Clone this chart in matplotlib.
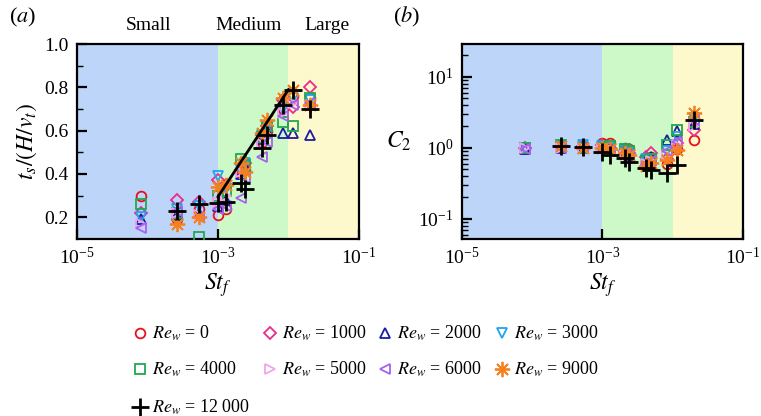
import numpy as np
import matplotlib
matplotlib.use("Agg")
from matplotlib import pyplot as plt

plt.rcParams['font.family'] = ['Liberation Serif', 'DejaVu Serif']
plt.rcParams['mathtext.fontset'] = 'stix'

# Stokes numbers shared by the runs
st_f = [8e-5, 2.6e-4, 5.3e-4, 1.0e-3, 1.3e-3, 2.1e-3, 2.4e-3, 4.2e-3, 5.0e-3, 8.3e-3, 1.15e-2, 2.0e-2]

re_w = ['0', '1000', '2000', '3000', '4000', '5000', '6000', '9000', '12\u2009000']
nan = np.nan

ts_re0 = [0.30, 0.19, 0.24, 0.21, 0.24, 0.40, 0.42, 0.55, 0.60, 0.70, 0.76, 0.75]
ts_re1000 = [0.22, 0.28, 0.27, 0.37, 0.35, 0.42, 0.45, 0.58, 0.62, 0.74, 0.71, 0.80]
ts_re2000 = [0.19, 0.21, 0.22, 0.25, 0.28, 0.40, 0.43, 0.56, 0.60, 0.59, 0.59, 0.58]
ts_re3000 = [0.20, 0.24, 0.25, 0.39, 0.33, 0.42, 0.45, 0.58, 0.62, 0.70, 0.75, 0.74]
ts_re4000 = [0.26, 0.22, 0.11, 0.30, 0.32, 0.47, 0.44, 0.57, 0.62, 0.64, 0.62, 0.75]
ts_re5000 = [0.17, 0.22, 0.21, 0.27, 0.30, 0.41, 0.40, 0.54, 0.58, 0.68, 0.73, 0.72]
ts_re6000 = [0.15, 0.23, 0.20, 0.24, 0.25, 0.29, 0.38, 0.48, 0.55, 0.67, 0.72, 0.73]
ts_re9000 = [nan, 0.17, 0.20, 0.34, 0.35, 0.45, 0.41, 0.59, 0.65, 0.75, 0.79, 0.72]
ts_re12000 = [nan, 0.23, 0.26, 0.265, 0.27, 0.36, 0.33, 0.52, 0.58, 0.72, 0.79, 0.70]

c2_re0 = [1.0, 1.1, 1.05, 1.18, 1.18, 1.0, 0.95, 0.70, 0.75, 0.60, 0.95, 1.3]
c2_re1000 = [1.0, 1.05, 1.05, 1.1, 1.0, 0.9, 0.85, 0.75, 0.85, 0.70, 1.18, 1.8]
c2_re2000 = [0.95, 1.0, 1.0, 1.0, 1.0, 0.85, 0.8, 0.70, 0.75, 1.3, 1.75, 2.2]
c2_re3000 = [1.0, 1.05, 1.1, 1.05, 1.0, 0.9, 0.85, 0.70, 0.70, 0.9, 1.4, 2.6]
c2_re4000 = [1.0, 1.1, 1.0, 1.0, 1.05, 0.95, 0.9, 0.65, 0.70, 1.1, 1.8, 2.3]
c2_re5000 = [1.0, 1.0, 1.0, 1.0, 0.95, 0.8, 0.8, 0.60, 0.65, 0.8, 1.1, 2.0]
c2_re6000 = [0.95, 1.0, 1.0, 0.95, 0.9, 0.85, 0.8, 0.60, 0.65, 0.9, 1.2, 2.5]
c2_re9000 = [nan, 1.05, 1.0, 1.0, 0.95, 0.85, 0.8, 0.55, 0.61, 0.68, 0.94, 3.1]
c2_re12000 = [nan, 1.07, 1.03, 0.88, 0.80, 0.72, 0.64, 0.52, 0.49, 0.44, 0.58, 2.48]

# linear fit in the medium range
fit_st = [1e-3, 1e-2]
fit_ts = [0.295, 0.79]

ts_all = [ts_re0, ts_re1000, ts_re2000, ts_re3000, ts_re4000, ts_re5000, ts_re6000, ts_re9000, ts_re12000]
c2_all = [c2_re0, c2_re1000, c2_re2000, c2_re3000, c2_re4000, c2_re5000, c2_re6000, c2_re9000, c2_re12000]

styles = [
    dict(marker='o', color='#e8101c', ms=7),
    dict(marker='D', color='#ee2a8c', ms=6),
    dict(marker='^', color='#1c1ca0', ms=7.5),
    dict(marker='v', color='#1ea4f0', ms=7.5),
    dict(marker='s', color='#20a850', ms=7),
    dict(marker='>', color='#f5a2ee', ms=7.5),
    dict(marker='<', color='#a463ee', ms=7.5),
    dict(marker=(8, 2, 0), color='#f5801e', ms=11),
    dict(marker='+', color='black', ms=13),
]

fig = plt.figure(figsize=(7.61, 4.16), dpi=100)
ax1 = fig.add_axes([0.1012, 0.4255, 0.3705, 0.4687])
ax2 = fig.add_axes([0.6070, 0.4255, 0.3690, 0.4687])

for ax in (ax1, ax2):
    ax.axvspan(1e-5, 1e-3, color='#bdd5f8', lw=0, zorder=0)
    ax.axvspan(1e-3, 1e-2, color='#cdf8c8', lw=0, zorder=0)
    ax.axvspan(1e-2, 1e-1, color='#fdf9cc', lw=0, zorder=0)
    ax.set_xscale('log')
    ax.set_xlim(1e-5, 1e-1)
    for s in ax.spines.values():
        s.set_linewidth(1.6)
    ax.tick_params(which='major', direction='in', length=7, width=1.6, labelsize=14, pad=6)
    ax.tick_params(which='minor', direction='in', length=4, width=1.0)
    ax.tick_params(which='both', top=False, right=False)
    ax.set_xlabel('$St_f$', fontsize=17, labelpad=2)

kws = []
for ts, c2, st in zip(ts_all, c2_all, styles):
    lw = 2.0 if st['marker'] == '+' else 1.3
    kw = dict(ls='none', marker=st['marker'], ms=st['ms'], mfc='none',
              mec=st['color'], mew=lw, zorder=3)
    ax1.plot(st_f, ts, **kw)
    ax2.plot(st_f, c2, **kw)
    kws.append(kw)

ax1.plot(fit_st, fit_ts, color='black', lw=2, zorder=4)

ax1.set_ylim(0.1, 1.0)
ax1.set_yticks([0.2, 0.4, 0.6, 0.8, 1.0])
ax1.set_yticks([0.3, 0.5, 0.7, 0.9], minor=True)
ax1.set_ylabel('$t_s/(H/v_t)$', fontsize=17, labelpad=4)

ax2.set_yscale('log')
ax2.set_ylim(0.052, 29)
ax2.set_ylabel('$C_2$', fontsize=17, rotation=0, labelpad=14, va='center')

fig.text(0.012, 0.945, '($a$)', fontsize=16)
fig.text(0.516, 0.945, '($b$)', fontsize=16)
fig.text(0.195, 0.928, 'Small', fontsize=14, ha='center')
fig.text(0.327, 0.928, 'Medium', fontsize=14, ha='center')
fig.text(0.430, 0.928, 'Large', fontsize=14, ha='center')

# hand-placed key below the panels, 4 columns x 3 rows
leg = fig.add_axes([0, 0, 1, 1], facecolor='none')
leg.set_xlim(0, 761)
leg.set_ylim(416, 0)
leg.axis('off')
col_x = [140, 270, 385, 502]
row_y = [333, 369, 407]
slots = [(0, 0), (1, 0), (2, 0), (3, 0), (0, 1), (1, 1), (2, 1), (3, 1), (0, 2)]
for (ci, ri), kw, lab in zip(slots, kws, re_w):
    leg.plot([col_x[ci]], [row_y[ri]], **kw)
    leg.text(col_x[ci] + 12, row_y[ri], '$Re_w$ = ' + lab, fontsize=13, va='center')

fig.savefig('out.png', dpi=100)
